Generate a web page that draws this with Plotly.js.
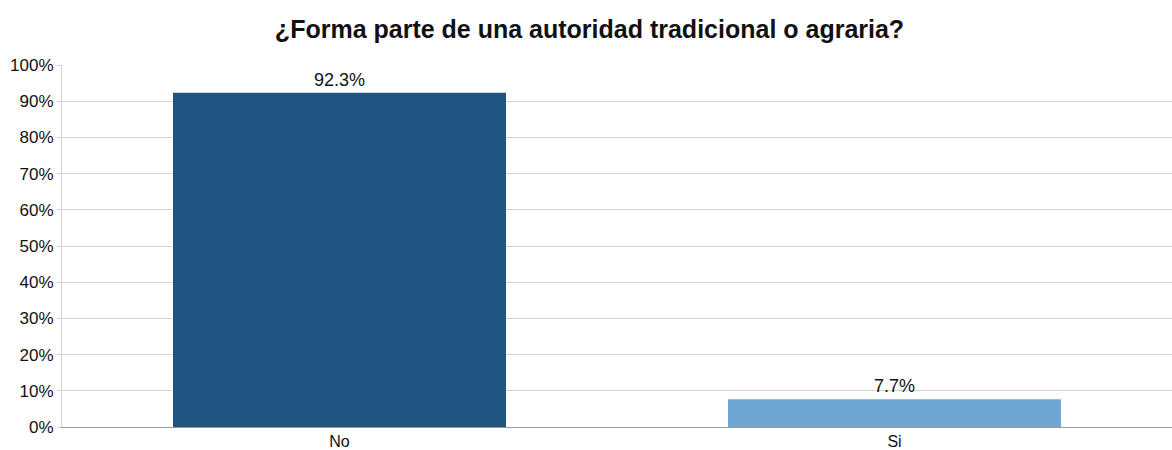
<!DOCTYPE html>
<html>
<head>
<meta charset="utf-8">
<script src="https://cdn.plot.ly/plotly-3.0.1.min.js"></script>
<style>html,body{margin:0;padding:0;background:#fff;}#chart{width:1172px;height:450px;}</style>
</head>
<body>
<div id="chart"></div>
<script>
const categories = ["No", "Si"];
const values = [92.3, 7.7];
const labels = ["92.3%", "7.7%"];
const barColors = ["#1f5381", "#6fa6d3"];
const yTickVals = [0, 10, 20, 30, 40, 50, 60, 70, 80, 90, 100];
const yTickText = ["0%", "10%", "20%", "30%", "40%", "50%", "60%", "70%", "80%", "90%", "100%"];

const FONT = "Liberation Sans, Arial, sans-serif";

const trace = {
  type: "bar",
  x: categories,
  y: values,
  text: labels,
  textposition: "outside",
  cliponaxis: false,
  textfont: {family: FONT, size: 18, color: "#111"},
  marker: {color: barColors},
  width: 0.6,
  hoverinfo: "none"
};

const layout = {
  width: 1172,
  height: 450,
  margin: {l: 62, r: 0, t: 65, b: 23},
  paper_bgcolor: "#fff",
  plot_bgcolor: "#fff",
  showlegend: false,
  title: {
    text: "<b>¿Forma parte de una autoridad tradicional o agraria?</b>",
    font: {family: FONT, size: 25, color: "#111"},
    x: 0.503, xanchor: "center", y: 0.935, yanchor: "middle"
  },
  xaxis: {
    type: "category",
    range: [-0.5, 1.5],
    showgrid: false,
    showline: true,
    linecolor: "#999",
    linewidth: 1,
    ticks: "",
    ticklabelstandoff: 0,
    tickfont: {family: FONT, size: 16, color: "#111"},
    fixedrange: true
  },
  yaxis: {
    range: [0, 100],
    tickvals: yTickVals,
    ticktext: yTickText,
    showgrid: true,
    gridcolor: "#d3d3d3",
    gridwidth: 1,
    showline: true,
    linecolor: "#d3d3d3",
    linewidth: 1,
    zeroline: false,
    ticks: "outside",
    ticklen: 4,
    tickcolor: "#d3d3d3",
    tickfont: {family: FONT, size: 17, color: "#111"},
    fixedrange: true
  },
  bargap: 0.4
};

Plotly.newPlot("chart", [trace], layout, {displayModeBar: false, staticPlot: true});
</script>
</body>
</html>
